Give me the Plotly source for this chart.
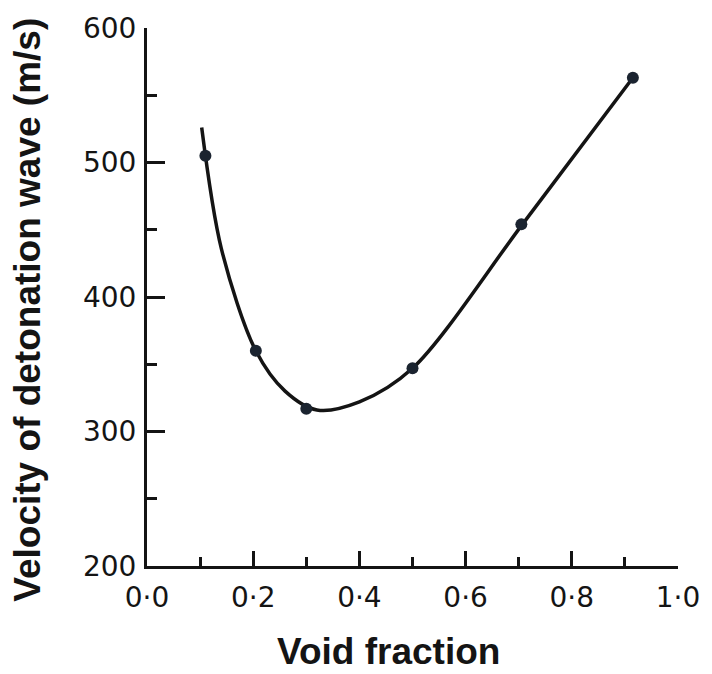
import plotly.graph_objects as go

# Measured data points
void_fraction = [0.11, 0.205, 0.30, 0.50, 0.705, 0.915]
velocity = [505, 360, 317, 347, 454, 563]

# Points
curve_x = [0.103, 0.14, 0.205, 0.26, 0.32, 0.40, 0.50, 0.707, 0.915]
curve_y = [526, 436, 360, 330, 316, 322, 347, 454, 563]

x_tickvals = [0.0, 0.2, 0.4, 0.6, 0.8, 1.0]
x_ticktext = ["0·0", "0·2", "0·4", "0·6", "0·8", "1·0"]
x_minor = [0.1, 0.3, 0.5, 0.7, 0.9]
y_tickvals = [200, 300, 400, 500, 600]
y_ticktext = ["200", "300", "400", "500", "600"]
y_minor = [250, 350, 450, 550]

ink = "#141414"

fig = go.Figure()
fig.add_trace(go.Scatter(x=curve_x, y=curve_y, mode="lines",
                         line=dict(color=ink, width=3.5, shape="spline", smoothing=0.9),
                         hoverinfo="skip", showlegend=False))
fig.add_trace(go.Scatter(x=void_fraction, y=velocity, mode="markers",
                         marker=dict(color="#1b2430", size=12),
                         showlegend=False))

tick_font = dict(family="DejaVu Sans", size=28, color=ink)

fig.update_xaxes(range=[0, 1.0], showline=True, linewidth=3, linecolor=ink,
                 showgrid=False, zeroline=False,
                 tickmode="array", tickvals=x_tickvals, ticktext=x_ticktext,
                 ticks="inside", ticklen=15, tickwidth=3, tickcolor=ink,
                 minor=dict(tickmode="array", tickvals=x_minor, ticks="inside",
                            ticklen=9, tickwidth=3, tickcolor=ink, showgrid=False),
                 tickfont=tick_font, ticklabelstandoff=4)
fig.update_yaxes(range=[200, 600], showline=True, linewidth=3, linecolor=ink,
                 showgrid=False, zeroline=False,
                 tickmode="array", tickvals=y_tickvals, ticktext=y_ticktext,
                 ticks="inside", ticklen=18, tickwidth=3, tickcolor=ink,
                 minor=dict(tickmode="array", tickvals=y_minor, ticks="inside",
                            ticklen=10, tickwidth=3, tickcolor=ink, showgrid=False),
                 tickfont=tick_font, ticklabelstandoff=2)

fig.add_annotation(text="<b>Void fraction</b>", xref="paper", yref="paper",
                   x=(392 - 147) / 539, y=-(652 - 566) / 544,
                   showarrow=False, xanchor="center", yanchor="middle",
                   font=dict(family="Liberation Sans", size=37, color=ink))
fig.add_annotation(text="<b>Velocity of detonation wave (m/s)</b>", xref="paper", yref="paper",
                   x=-(147 - 26) / 539, y=(566 - 307) / 544, textangle=-90,
                   showarrow=False, xanchor="center", yanchor="middle",
                   font=dict(family="Liberation Sans", size=37, color=ink))

fig.update_layout(width=712, height=674, paper_bgcolor="white", plot_bgcolor="white",
                  margin=dict(l=147, r=26, t=22, b=108))

fig.write_html("out.html")
